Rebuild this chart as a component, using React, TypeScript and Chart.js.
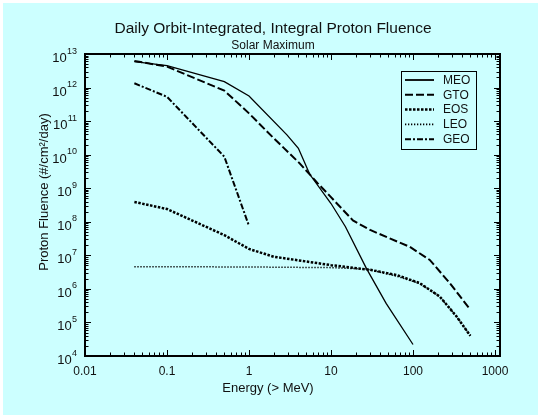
import React, { useEffect, useRef } from 'react';
import { Chart, registerables } from 'chart.js';

Chart.register(...registerables);

const FONT = "'Liberation Sans', Arial, Helvetica, sans-serif";

const titleText = 'Daily Orbit-Integrated, Integral Proton Fluence';
const subtitleText = 'Solar Maximum';
const xAxisTitle = 'Energy (> MeV)';
const yAxisTitle = 'Proton Fluence (#/cm²/day)';

const seriesLabels = ['MEO', 'GTO', 'EOS', 'LEO', 'GEO'];

const meoEnergy = [0.04, 0.1, 0.5, 1, 2.9, 4, 5.5, 10, 15, 27, 47, 100];
const meoFluence = [5.9e12, 4.5e12, 1.5e12, 5.6e11, 3.9e10, 1.55e10, 2.6e9, 3.5e8, 7.1e7, 4.1e6, 3.7e5, 2.2e4];

const gtoEnergy = [0.04, 0.1, 0.5, 1, 2, 4.15, 6.9, 9.6, 18.5, 30, 52, 91, 160, 280, 500];
const gtoFluence = [6.2e12, 4.2e12, 8.1e11, 1.7e11, 3.1e10, 5.5e9, 1.4e9, 6e8, 1.1e8, 5.7e7, 3.2e7, 1.8e7, 7.3e6, 1.5e6, 2.4e5];

const eosEnergy = [0.04, 0.1, 0.5, 1, 2, 10, 30, 63, 120, 212, 340, 500];
const eosFluence = [3.9e8, 2.4e8, 4e7, 1.55e7, 9.1e6, 5.1e6, 3.7e6, 2.6e6, 1.5e6, 5.9e5, 1.5e5, 4e4];

const leoEnergy = [0.04, 1, 10, 27, 63, 120, 212, 340, 500];
const leoFluence = [4.6e6, 4.5e6, 4.3e6, 3.9e6, 2.4e6, 1.45e6, 5.9e5, 1.5e5, 4e4];

const geoEnergy = [0.04, 0.1, 0.5, 1];
const geoFluence = [1.34e12, 5.3e11, 8.7e9, 7.5e7];

const xTickValues = [0.01, 0.1, 1, 10, 100, 1000];
const xTickLabels = ['0.01', '0.1', '1', '10', '100', '1000'];
const yTickExponents = [4, 5, 6, 7, 8, 9, 10, 11, 12, 13];

const toPoints = (xs: number[], ys: number[]) => xs.map((x, i) => ({ x, y: ys[i] }));

const decorPlugin = {
  id: 'decor',
  beforeDraw(chart: any) {
    const { ctx, width, height } = chart;
    ctx.save();
    ctx.fillStyle = '#ffffff';
    ctx.fillRect(0, 0, width, height);
    ctx.fillStyle = '#ccffff';
    ctx.fillRect(3, 3, width - 6, height - 6);
    ctx.restore();
  },
  afterDraw(chart: any) {
    const { ctx, chartArea: a, scales } = chart;
    const xs = scales.x;
    const ys = scales.y;
    ctx.save();
    ctx.strokeStyle = '#000';
    ctx.fillStyle = '#000';
    ctx.lineWidth = 1;
    const line = (x1: number, y1: number, x2: number, y2: number) => {
      ctx.beginPath();
      ctx.moveTo(x1, y1);
      ctx.lineTo(x2, y2);
      ctx.stroke();
    };
    // x ticks (inward, bottom and top)
    for (let e = -2; e <= 3; e++) {
      for (let m = 1; m <= 9; m++) {
        const v = m * Math.pow(10, e);
        if (v > 1000.0001) break;
        const px = Math.round(xs.getPixelForValue(v)) + 0.5;
        const len = m === 1 ? 6 : 3.5;
        line(px, a.bottom, px, a.bottom - len);
        line(px, a.top, px, a.top + len);
      }
    }
    // y ticks (inward, left and right)
    for (let e = 4; e <= 13; e++) {
      for (let m = 1; m <= 9; m++) {
        const v = m * Math.pow(10, e);
        if (v > 1.0001e13) break;
        const py = Math.round(ys.getPixelForValue(v)) + 0.5;
        const len = m === 1 ? 6 : 3.5;
        line(a.left, py, a.left + len, py);
        line(a.right, py, a.right - len, py);
      }
    }
    // frame
    ctx.lineWidth = 2;
    ctx.strokeRect(a.left, a.top, a.right - a.left, a.bottom - a.top);

    // y tick labels 10^n
    ctx.fillStyle = '#111';
    ctx.textBaseline = 'alphabetic';
    yTickExponents.forEach((ex) => {
      const py = ys.getPixelForValue(Math.pow(10, ex));
      const expStr = String(ex);
      ctx.font = `9px ${FONT}`;
      const we = ctx.measureText(expStr).width;
      const xr = 77;
      ctx.textAlign = 'left';
      ctx.fillText(expStr, xr - we, py - 0.5);
      ctx.font = `13px ${FONT}`;
      ctx.textAlign = 'right';
      ctx.fillText('10', xr - we - 0.3, py + 8);
    });

    // axis titles
    ctx.font = `13px ${FONT}`;
    ctx.textAlign = 'center';
    ctx.textBaseline = 'alphabetic';
    ctx.fillText(xAxisTitle, 268, 391.5);
    ctx.save();
    ctx.translate(48, 192);
    ctx.rotate(-Math.PI / 2);
    ctx.fillText(yAxisTitle, 0, 0);
    ctx.restore();

    // legend
    const lx = 401, ly = 71, lw = 75, lh = 78;
    ctx.fillStyle = '#ccffff';
    ctx.fillRect(lx, ly, lw, lh);
    ctx.lineWidth = 1;
    ctx.strokeStyle = '#000';
    ctx.strokeRect(lx + 0.5, ly + 0.5, lw, lh);
    chart.data.datasets.forEach((ds: any, i: number) => {
      const cy = 80 + i * 14.8;
      ctx.save();
      ctx.lineWidth = Math.max(ds.borderWidth, 1.8);
      ctx.setLineDash(ds.borderDash || []);
      ctx.lineCap = 'butt';
      ctx.beginPath();
      ctx.moveTo(405, cy);
      ctx.lineTo(434, cy);
      ctx.stroke();
      ctx.restore();
      ctx.fillStyle = '#111';
      ctx.font = `12px ${FONT}`;
      ctx.textAlign = 'left';
      ctx.textBaseline = 'middle';
      ctx.fillText(ds.label, 443, cy + 0.5);
    });
    ctx.restore();
  },
};

export default function App() {
  const canvasRef = useRef<HTMLCanvasElement | null>(null);

  useEffect(() => {
    const canvas = canvasRef.current;
    if (!canvas) return;
    const common = {
      borderColor: '#000',
      backgroundColor: '#000',
      pointRadius: 0,
      tension: 0,
      fill: false,
      borderCapStyle: 'butt',
    };
    const chart = new Chart(canvas, {
      type: 'line',
      data: {
        datasets: [
          { ...common, label: seriesLabels[0], data: toPoints(meoEnergy, meoFluence), borderWidth: 1.3, borderDash: [] },
          { ...common, label: seriesLabels[1], data: toPoints(gtoEnergy, gtoFluence), borderWidth: 2, borderDash: [8, 3] },
          { ...common, label: seriesLabels[2], data: toPoints(eosEnergy, eosFluence), borderWidth: 2.5, borderDash: [2.5, 1.5] },
          { ...common, label: seriesLabels[3], data: toPoints(leoEnergy, leoFluence), borderWidth: 1.5, borderDash: [1.3, 1.7] },
          { ...common, label: seriesLabels[4], data: toPoints(geoEnergy, geoFluence), borderWidth: 2, borderDash: [6, 2, 2, 2] },
        ] as any,
      },
      options: {
        responsive: false,
        animation: false,
        devicePixelRatio: 1,
        layout: { padding: { left: 5, right: 0, top: 0, bottom: 0 } },
        plugins: {
          legend: { display: false },
          tooltip: { enabled: false },
          title: {
            display: true,
            text: titleText,
            color: '#111',
            font: { family: FONT, size: 15.5, weight: 'normal' },
            padding: { top: 19.5, bottom: 0 },
          },
          subtitle: {
            display: true,
            text: subtitleText,
            color: '#111',
            font: { family: FONT, size: 12, weight: 'normal' },
            padding: { top: 0.5, bottom: 1 },
          },
        },
        scales: {
          x: {
            type: 'logarithmic',
            position: 'bottom',
            min: 0.01,
            max: 1150,
            grid: { display: false, drawTicks: false },
            border: { display: false },
            afterBuildTicks: (scale: any) => {
              scale.ticks = xTickValues.map((v) => ({ value: v }));
            },
            ticks: {
              autoSkip: false,
              maxRotation: 0,
              minRotation: 0,
              padding: 8,
              color: '#111',
              font: { family: FONT, size: 12 },
              callback: (value: any) => {
                const idx = xTickValues.findIndex((v) => Math.abs(v - Number(value)) / v < 1e-6);
                return idx >= 0 ? xTickLabels[idx] : '';
              },
            },
            afterFit: (scale: any) => {
              scale.height = 62;
            },
          },
          y: {
            type: 'logarithmic',
            position: 'left',
            min: 1e4,
            max: 1e13,
            grid: { display: false, drawTicks: false },
            border: { display: false },
            ticks: { display: false },
            afterFit: (scale: any) => {
              scale.width = 80;
            },
          },
          y2: {
            type: 'linear',
            position: 'right',
            display: true,
            grid: { display: false, drawTicks: false },
            border: { display: false },
            ticks: { display: false },
            afterFit: (scale: any) => {
              scale.width = 41;
            },
          },
        },
      } as any,
      plugins: [decorPlugin],
    });
    return () => chart.destroy();
  }, []);

  return (
    <>
      <style>{'body{margin:0;}'}</style>
      <canvas ref={canvasRef} width={541} height={418} style={{ display: 'block', width: 541, height: 418 }} />
    </>
  );
}
